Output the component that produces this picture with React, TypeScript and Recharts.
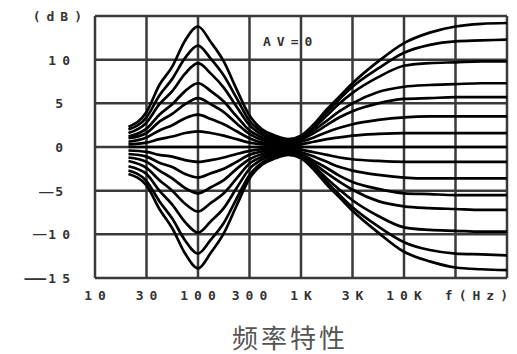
import React from "react"
import { LineChart, Line, XAxis, YAxis, CartesianGrid } from "recharts"

// x positions on the chart grid (0 = 10Hz, 1 = 30Hz, 2 = 100Hz ... 7 = f(Hz) column, 8 = right edge)
const positions = [0.65, 1, 1.25, 1.5, 1.75, 2, 2.25, 2.5, 2.75, 3, 3.25, 3.5, 3.75, 4, 4.25, 4.5, 4.75, 5, 5.5, 6, 6.5, 7, 7.5, 8]

const xLabels = ["10", "30", "100", "300", "1K", "3K", "10K", "", "f(Hz)"]
const yTicks = [-15, -10, -5, 0, 5, 10, 15]
const yLabels = ["15", "10", "5", "0", "5", "10", "(dB)"]

// gain in dB, bass part then treble part
const boost7 = [2.3, 4.0, 7.1, 9.2, 12.2, 13.8, 12.0, 9.8, 6.6, 3.6, 2.0, 1.3, 0.9, 1.3, 2.6, 4.3, 5.8, 7.3, 9.8, 11.9, 13.1, 13.8, 14.1, 14.2]
const boost6 = [2.0, 3.4, 5.9, 7.8, 10.2, 11.6, 10.1, 8.2, 5.6, 3.0, 1.7, 1.1, 0.75, 1.2, 2.4, 4.0, 5.5, 6.9, 9.0, 10.8, 11.7, 12.1, 12.2, 12.3]
const boost5 = [1.6, 2.8, 4.9, 6.4, 8.4, 9.6, 8.4, 6.8, 4.6, 2.5, 1.4, 0.9, 0.6, 1.0, 2.2, 3.6, 5.0, 6.2, 8.0, 9.3, 9.6, 9.7, 9.8, 9.8]
const boost4 = [1.2, 2.1, 3.7, 4.9, 6.4, 7.3, 6.4, 5.2, 3.5, 1.9, 1.1, 0.7, 0.5, 0.9, 1.9, 3.0, 4.1, 5.0, 6.3, 6.9, 7.1, 7.2, 7.3, 7.3]
const boost3 = [1.0, 1.6, 2.9, 3.8, 4.9, 5.6, 4.9, 4.0, 2.7, 1.5, 0.8, 0.5, 0.4, 0.8, 1.6, 2.5, 3.4, 4.1, 5.0, 5.5, 5.6, 5.7, 5.7, 5.7]
const boost2 = [0.6, 1.1, 1.9, 2.5, 3.3, 3.7, 3.2, 2.6, 1.8, 1.0, 0.5, 0.35, 0.25, 0.6, 1.1, 1.7, 2.2, 2.6, 3.1, 3.4, 3.5, 3.5, 3.5, 3.5]
const boost1 = [0.3, 0.5, 0.9, 1.2, 1.6, 1.8, 1.6, 1.3, 0.9, 0.5, 0.3, 0.2, 0.1, 0.3, 0.6, 0.9, 1.1, 1.3, 1.5, 1.6, 1.6, 1.6, 1.6, 1.6]
const flat = [0, 0, 0, 0, 0, 0, 0, 0, 0, 0, 0, 0, 0, 0, 0, 0, 0, 0, 0, 0, 0, 0, 0, 0]
const cut1 = [-0.4, -0.55, -0.9, -1.1, -1.5, -1.7, -1.5, -1.2, -0.8, -0.45, -0.25, -0.15, -0.1, -0.3, -0.6, -0.9, -1.2, -1.4, -1.6, -1.7, -1.7, -1.7, -1.7, -1.7]
const cut2 = [-0.8, -1.1, -1.8, -2.3, -3.1, -3.5, -3.0, -2.5, -1.7, -0.9, -0.5, -0.35, -0.25, -0.6, -1.1, -1.7, -2.3, -2.7, -3.2, -3.5, -3.6, -3.6, -3.6, -3.6]
const cut3 = [-1.2, -1.7, -2.7, -3.6, -4.7, -5.3, -4.6, -3.8, -2.5, -1.4, -0.8, -0.5, -0.35, -0.8, -1.6, -2.4, -3.3, -4.0, -4.8, -5.3, -5.4, -5.5, -5.5, -5.5]
const cut4 = [-1.6, -2.4, -3.8, -5.0, -6.5, -7.4, -6.4, -5.3, -3.6, -1.9, -1.1, -0.7, -0.5, -0.9, -1.9, -3.0, -4.0, -4.9, -6.2, -6.8, -7.0, -7.1, -7.2, -7.2]
const cut5 = [-2.2, -3.1, -5.0, -6.6, -8.6, -9.8, -8.5, -7.0, -4.7, -2.5, -1.4, -0.9, -0.6, -1.0, -2.2, -3.6, -4.9, -6.1, -7.9, -9.2, -9.5, -9.6, -9.7, -9.7]
const cut6 = [-2.7, -3.9, -6.2, -8.2, -10.7, -12.2, -10.6, -8.7, -5.9, -3.2, -1.8, -1.1, -0.8, -1.2, -2.4, -4.0, -5.5, -6.9, -9.1, -10.9, -11.8, -12.2, -12.3, -12.4]
const cut7 = [-3.1, -4.4, -7.1, -9.3, -12.2, -13.9, -12.1, -9.9, -6.7, -3.6, -2.0, -1.3, -0.9, -1.3, -2.6, -4.3, -5.8, -7.3, -9.8, -12.0, -13.1, -13.8, -14.0, -14.1]

const curves = [boost7, boost6, boost5, boost4, boost3, boost2, boost1, flat, cut1, cut2, cut3, cut4, cut5, cut6, cut7]

const data = positions.map((pos, i) => {
  const row: Record<string, number> = { pos }
  curves.forEach((c, k) => {
    row["c" + k] = c[i]
  })
  return row
})

const tickFont = {
  fontFamily: "DejaVu Sans Mono",
  fontWeight: "bold" as const,
  fontSize: 13,
  letterSpacing: 6,
  fill: "#333",
}

// letter-spacing also trails the last glyph, shift back by it
const SP = 6

const XTick = (props: any) => {
  const { x, payload } = props
  const label = xLabels[payload.value] ?? ""
  const last = payload.value === 8
  return (
    <text
      x={last ? x + 1 + SP : x + SP / 2}
      y={287}
      textAnchor={last ? "end" : "middle"}
      dominantBaseline="central"
      {...tickFont}
    >
      {label}
    </text>
  )
}

const YTick = (props: any) => {
  const { y, payload } = props
  const v = payload.value
  const label = yLabels[yTicks.indexOf(v)]
  let right = 62
  if (label === "(dB)") right = 74
  else if (Math.abs(v) < 10) right = 55
  // the scan draws the minus as a long rule, longest on -15
  const dashSize = v === -15 ? 24 : v === -10 ? 15 : 16
  return (
    <text x={right + SP} y={y} textAnchor="end" dominantBaseline="central" {...tickFont}>
      {v < 0 && (
        <tspan fontFamily="DejaVu Sans" fontWeight="normal" fontSize={dashSize} letterSpacing={1}>
          —
        </tspan>
      )}
      <tspan>{label}</tspan>
    </text>
  )
}

export default function App() {
  return (
    <div style={{ position: "relative", width: 509, height: 344 }}>
      <LineChart width={509} height={310} data={data} margin={{ top: 8, right: 10, bottom: 18, left: 0 }}>
        <CartesianGrid stroke="#3a3a3a" strokeWidth={2.5} />
        <XAxis
          type="number"
          dataKey="pos"
          domain={[0, 8]}
          ticks={[0, 1, 2, 3, 4, 5, 6, 7, 8]}
          axisLine={false}
          tickLine={false}
          height={22}
          tick={<XTick />}
          interval={0}
        />
        <YAxis
          type="number"
          domain={[-15, 15]}
          ticks={yTicks}
          axisLine={false}
          tickLine={false}
          width={87}
          tick={<YTick />}
          interval={0}
        />
        {curves.map((_, k) => (
          <Line
            key={k}
            type="monotone"
            dataKey={"c" + k}
            stroke="#000"
            strokeWidth={2.7}
            dot={false}
            isAnimationActive={false}
          />
        ))}
      </LineChart>
      <div
        style={{
          position: "absolute",
          left: 255,
          top: 26,
          fontFamily: "DejaVu Sans Mono",
          fontWeight: "bold",
          fontSize: 13,
          letterSpacing: 6,
          color: "#333",
        }}
      >
        AV=0
      </div>
      <div
        style={{
          position: "absolute",
          left: 224,
          top: 316,
          fontFamily: "Noto Sans CJK SC",
          fontSize: 26,
          lineHeight: "26px",
          letterSpacing: 3,
          color: "#555",
          whiteSpace: "nowrap",
        }}
      >
        频率特性
      </div>
    </div>
  )
}
